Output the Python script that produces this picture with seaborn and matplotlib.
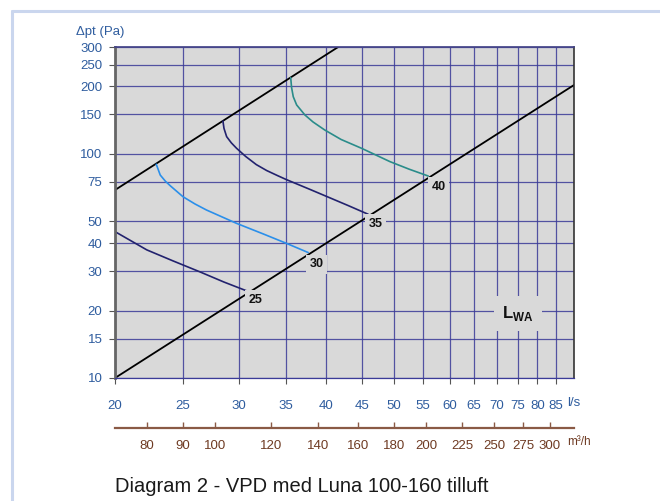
import numpy as np
import matplotlib
matplotlib.use("Agg")
import matplotlib.pyplot as plt
import seaborn as sns
from matplotlib.ticker import NullLocator, FixedLocator, FixedFormatter
from matplotlib.lines import Line2D

# ------------------------------------------------------------------
# Data (flow in l/s, pressure drop in Pa)
# ------------------------------------------------------------------
x_ticks = [20, 25, 30, 35, 40, 45, 50, 55, 60, 65, 70, 75, 80, 85]
y_ticks = [10, 15, 20, 30, 40, 50, 75, 100, 150, 200, 250, 300]
m3h_ticks = [80, 90, 100, 120, 140, 160, 180, 200, 225, 250, 275, 300]

# limit lines (upper and lower boundary of the working range)
upper_q = [20, 41.6]
upper_dp = [69, 300]
lower_q = [20, 90.2]
lower_dp = [10, 203]

# sound power level curves (LWA)
lwa_25_q = [20, 22.2, 24.2, 26.4, 28.6, 31.0]
lwa_25_dp = [45, 37.3, 33.3, 29.8, 26.8, 24.3]

lwa_30_q = [22.9, 23.2, 23.6, 24.0, 25.0, 26.0, 27.0, 29.8, 32.5, 35.1, 37.7]
lwa_30_dp = [89.9, 80.5, 75.5, 71.9, 64.4, 59.8, 56.2, 49.0, 44.0, 39.9, 36.3]

lwa_35_q = [28.5, 28.6, 28.85, 29.3, 29.8, 30.7, 31.8, 32.9, 34.1, 35.1, 37.9, 40.1, 43.0, 45.9]
lwa_35_dp = [140.3, 130, 119.4, 112, 106.0, 97.5, 89.6, 84.3, 80.0, 76.8, 69.5, 64.5, 58.8, 53.8]

lwa_40_q = [35.6, 35.7, 35.9, 36.3, 37.3, 38.3, 39.8, 42.0, 44.9, 49.3, 52.5, 55.9]
lwa_40_dp = [219, 198, 180, 165.4, 149.2, 138.9, 127.9, 116, 106, 92.4, 85.5, 79.7]

curve_labels = ["25", "30", "35", "40"]
label_q = [31.7, 38.8, 47.0, 57.8]
label_dp = [22.3, 32.2, 48.7, 71.4]

# ------------------------------------------------------------------
# Styling
# ------------------------------------------------------------------
sns.set_theme(style="ticks")
plt.rcParams["font.family"] = ["Liberation Sans", "DejaVu Sans"]
plt.rcParams["mathtext.fontset"] = "custom"
plt.rcParams["mathtext.rm"] = "Liberation Sans"
plt.rcParams["mathtext.bf"] = "Liberation Sans:bold"

BG = "#D9D9D9"
GRID = "#3B3B98"
TICK_BLUE = "#2E5C9E"
BROWN = "#8A5A45"
NAVY = "#22226E"
SKY = "#2B8FEA"
TEAL = "#2A8C8A"

fig = plt.figure(figsize=(6.6, 5.01), dpi=100)
ax = fig.add_axes([115 / 660, 1 - 378 / 501, 459 / 660, 331 / 501])
ax.set_facecolor(BG)

ax.set_xscale("log")
ax.set_yscale("log")
ax.set_xlim(20, 90.2)
ax.set_ylim(10, 300)

# lines
sns.lineplot(x=upper_q, y=upper_dp, ax=ax, color="black", lw=1.3, sort=False, estimator=None)
sns.lineplot(x=lower_q, y=lower_dp, ax=ax, color="black", lw=1.3, sort=False, estimator=None)
sns.lineplot(x=lwa_25_q, y=lwa_25_dp, ax=ax, color=NAVY, lw=1.2, sort=False, estimator=None)
sns.lineplot(x=lwa_30_q, y=lwa_30_dp, ax=ax, color=SKY, lw=1.2, sort=False, estimator=None)
sns.lineplot(x=lwa_35_q, y=lwa_35_dp, ax=ax, color=NAVY, lw=1.2, sort=False, estimator=None)
sns.lineplot(x=lwa_40_q, y=lwa_40_dp, ax=ax, color=TEAL, lw=1.2, sort=False, estimator=None)

for lab, q, dp in zip(curve_labels, label_q, label_dp):
    ax.text(q, dp, lab, ha="center", va="center", fontsize=9, fontweight="bold",
            color="#111111", zorder=5,
            bbox=dict(facecolor=BG, edgecolor="none", pad=2.5))

ax.text(0.877, 0.195, r"$\mathbf{L}_{\mathbf{WA}}$", transform=ax.transAxes,
        ha="center", va="center", fontsize=12, color="#111111", zorder=5,
        bbox=dict(facecolor=BG, edgecolor="none", pad=6))

# grid and ticks
ax.xaxis.set_major_locator(FixedLocator(x_ticks))
ax.xaxis.set_major_formatter(FixedFormatter([str(v) for v in x_ticks]))
ax.xaxis.set_minor_locator(NullLocator())
ax.yaxis.set_major_locator(FixedLocator(y_ticks))
ax.yaxis.set_major_formatter(FixedFormatter([str(v) for v in y_ticks]))
ax.yaxis.set_minor_locator(NullLocator())
ax.grid(True, which="major", color=GRID, lw=0.9, alpha=0.85)
ax.set_axisbelow(True)

ax.tick_params(axis="x", direction="out", length=4, width=0.8, color="#555555",
               pad=12, labelsize=9.5, labelcolor=TICK_BLUE)
ax.tick_params(axis="y", direction="out", length=4, width=0.8, color="#555555",
               pad=5, labelsize=9.5, labelcolor=TICK_BLUE)

ax.spines["left"].set_color("#666666")
ax.spines["left"].set_linewidth(2)
ax.spines["right"].set_color("#333333")
ax.spines["right"].set_linewidth(1.2)
ax.spines["top"].set_color("#444488")
ax.spines["bottom"].set_color(GRID)
ax.spines["bottom"].set_linewidth(0.9)

# secondary flow axis in m3/h
sec = ax.secondary_xaxis(-0.151, functions=(lambda q: q * 3.6, lambda m: m / 3.6))
sec.xaxis.set_major_locator(FixedLocator(m3h_ticks))
sec.xaxis.set_major_formatter(FixedFormatter([str(v) for v in m3h_ticks]))
sec.xaxis.set_minor_locator(NullLocator())
sec.tick_params(axis="x", direction="in", length=4, width=1, color=BROWN,
                pad=9, labelsize=9.5, labelcolor="#6E3A22")
sec.spines["bottom"].set_color(BROWN)
sec.spines["bottom"].set_linewidth(1.6)

# axis titles / units
fig.text(76 / 660, 1 - 32 / 501, "Δpt (Pa)", ha="left", va="center",
         fontsize=9.5, color=TICK_BLUE)
fig.text(567 / 660, 1 - 403 / 501, "l/s", ha="left", va="center",
         fontsize=9.5, color=TICK_BLUE)
fig.text(567 / 660, 1 - 442 / 501, "m³/h", ha="left", va="center",
         fontsize=8.5, color="#6E3A22")

fig.text(115 / 660, 1 - 487 / 501, "Diagram 2 - VPD med Luna 100-160 tilluft",
         ha="left", va="center", fontsize=14.5, color="#1A1A1A")

# light frame around the figure
fig.add_artist(Line2D([12 / 660, 12 / 660], [0, 1 - 11 / 501], transform=fig.transFigure,
                      color="#CAD6EE", lw=2.2))
fig.add_artist(Line2D([12 / 660, 1], [1 - 11 / 501, 1 - 11 / 501], transform=fig.transFigure,
                      color="#CAD6EE", lw=2.2))

fig.savefig("out.png", dpi=100)
